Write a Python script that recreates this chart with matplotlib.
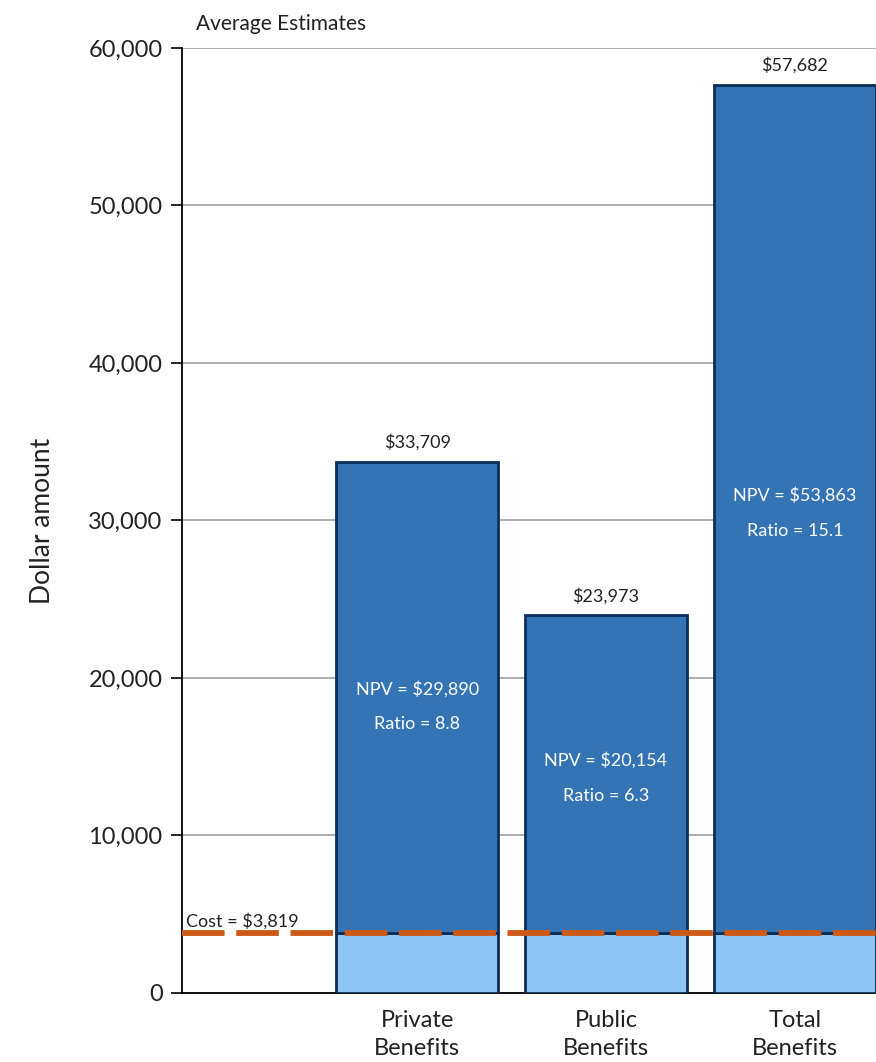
import numpy as np
import matplotlib.pyplot as plt

plt.rcParams['font.family'] = ['Lato', 'DejaVu Sans']

# Данные
categories = ['Private\nBenefits', 'Public\nBenefits', 'Total\nBenefits']
benefits = [33709, 23973, 57682]
npv = [29890, 20154, 53863]
ratio = [8.8, 6.3, 15.1]
cost = 3819
y_ticks = [0, 10000, 20000, 30000, 40000, 50000, 60000]

dark_blue = '#3474b4'
light_blue = '#8fc6f8'
edge = '#0d2d57'
orange = '#cc5a16'

fig = plt.figure(figsize=(8.76, 10.62), dpi=100)
ax = fig.add_axes([0.2078, 0.065, 0.7922, 0.8898])

x = np.arange(1, len(categories) + 1)
width = 0.86

# Нижняя часть (стоимость) и верхняя часть (выгода сверх стоимости)
ax.bar(x, [cost] * len(x), width, color=light_blue, edgecolor=edge, linewidth=2, zorder=3)
ax.bar(x, [b - cost for b in benefits], width, bottom=cost, color=dark_blue,
       edgecolor=edge, linewidth=2, zorder=3)

# Линия стоимости
ax.axhline(cost, color=orange, linewidth=4.2, dashes=(7.3, 2.0), zorder=5)
ax.text(-0.225, cost + 200, f'Cost = ${cost:,}', fontsize=13, color='#222222',
        ha='left', va='bottom', zorder=6)

# Подписи значений над столбцами
for xi, b in zip(x, benefits):
    ax.text(xi, b + 700, f'${b:,}', ha='center', va='bottom', fontsize=13, color='#222222')

# NPV и Ratio внутри столбцов
npv_y = [19300, 14750, 31600]
for xi, n, r, yy in zip(x, npv, ratio, npv_y):
    ax.text(xi, yy, f'NPV = ${n:,}', ha='center', va='center', fontsize=13, color='white', zorder=6)
    ax.text(xi, yy - 2250, f'Ratio = {r}', ha='center', va='center', fontsize=13, color='white', zorder=6)

ax.set_xlim(-0.245, 3.43)
ax.set_ylim(0, 60000)
ax.set_yticks(y_ticks)
ax.set_yticklabels([f'{t:,}' for t in y_ticks], fontsize=17, color='#222222')
ax.set_xticks(x)
ax.set_xticklabels(categories, fontsize=17, color='#222222', linespacing=1.45)
ax.tick_params(axis='x', length=0, pad=12)
ax.tick_params(axis='y', length=8, width=1.2, direction='out', pad=6)

ax.yaxis.grid(True, color='#a0a0a0', linewidth=1.2, zorder=0)
ax.set_axisbelow(True)
for s in ['top', 'right']:
    ax.spines[s].set_visible(False)
ax.spines['left'].set_linewidth(1.3)
ax.spines['bottom'].set_linewidth(1.3)

ax.set_ylabel('Dollar amount', fontsize=19, color='#222222', labelpad=24)
fig.text(196 / 876, 1 - 24 / 1062, 'Average Estimates', fontsize=15, color='#222222',
         ha='left', va='center')

fig.savefig('out.png', dpi=100)
